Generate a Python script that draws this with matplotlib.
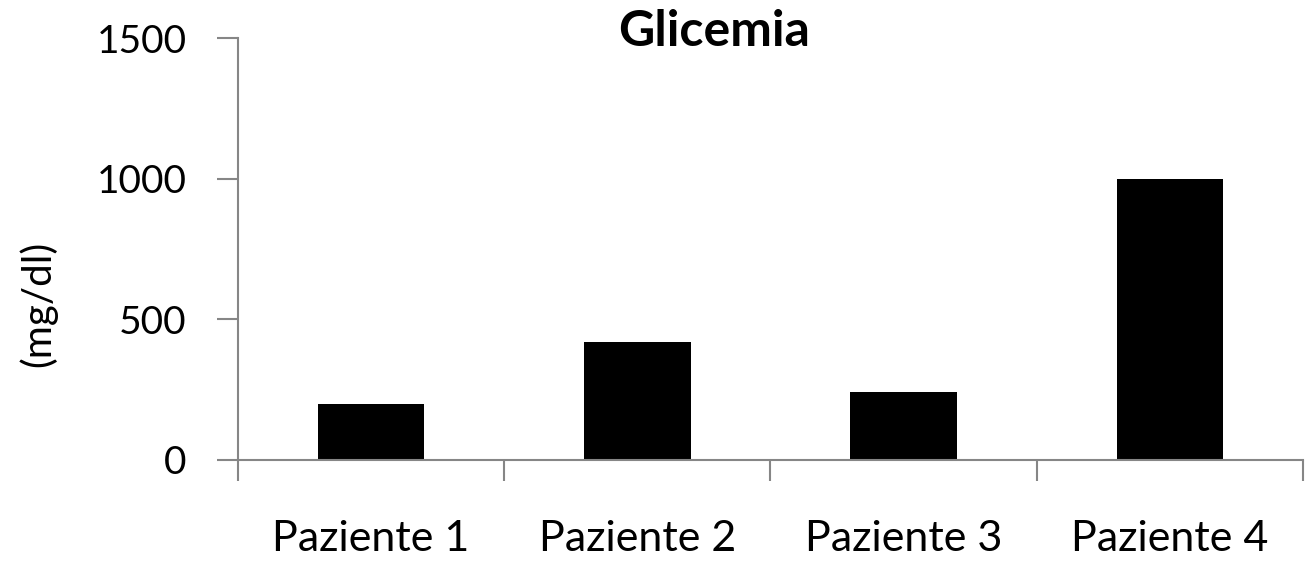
import matplotlib.pyplot as plt
from matplotlib.ticker import FixedLocator

# Data
pazienti = ['Paziente 1', 'Paziente 2', 'Paziente 3', 'Paziente 4']
glicemia = [200, 418, 243, 1000]

plt.rcParams['font.family'] = ['Lato', 'DejaVu Sans']
axis_grey = '#868686'

fig = plt.figure(figsize=(13.06, 5.63), dpi=100)
ax = fig.add_axes([0.1822, 0.183, 0.8155, 0.7495])

x = range(len(pazienti))
ax.bar(x, glicemia, width=0.4, color='black')

ax.set_xlim(-0.5, len(pazienti) - 0.5)
ax.set_ylim(0, 1500)
ax.set_yticks([0, 500, 1000, 1500])

ax.set_xticks(list(x))
ax.set_xticklabels(pazienti)
ax.xaxis.set_minor_locator(FixedLocator([i - 0.5 for i in range(len(pazienti) + 1)]))
ax.tick_params(axis='x', which='major', length=0, pad=43, labelsize=31)
ax.tick_params(axis='x', which='minor', length=15, width=1.5, color=axis_grey)
ax.tick_params(axis='y', length=15, width=1.5, color=axis_grey, pad=22, labelsize=28)

for side in ['top', 'right']:
    ax.spines[side].set_visible(False)
for side in ['left', 'bottom']:
    ax.spines[side].set_color(axis_grey)
    ax.spines[side].set_linewidth(1.5)

ax.set_ylabel('(mg/dl)', fontsize=29, va='center')
ax.yaxis.set_label_coords(-0.188, 0.37)
ax.set_title('Glicemia', fontsize=36, fontweight='bold', x=0.447, y=0.996, va='center')

fig.savefig('out.png', dpi=100)
